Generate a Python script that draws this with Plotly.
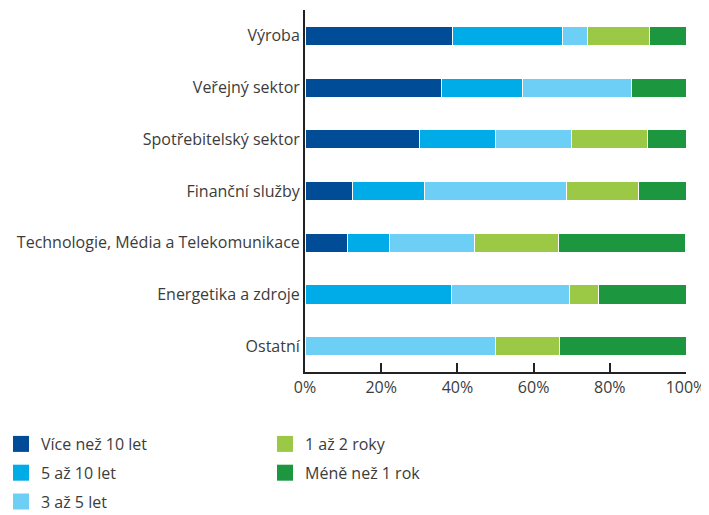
import plotly.graph_objects as go

# sectors, top to bottom as in the chart
sectors = ["Výroba", "Veřejný sektor", "Spotřebitelský sektor", "Finanční služby",
           "Technologie, Média a Telekomunikace", "Energetika a zdroje", "Ostatní"]

# share of respondents (%) per tenure group
vice_nez_10 = [38.7, 35.7, 30.0, 12.5, 11.1, 0.0, 0.0]
od_5_do_10 = [29.0, 21.4, 20.0, 18.75, 11.1, 38.5, 0.0]
od_3_do_5 = [6.5, 28.6, 20.0, 37.5, 22.2, 30.8, 50.0]
od_1_do_2 = [16.1, 0.0, 20.0, 18.75, 22.2, 7.7, 16.7]
mene_nez_1 = [9.7, 14.3, 10.0, 12.5, 33.3, 23.1, 33.3]

series = [
    ("Více než 10 let", vice_nez_10, "#004C97", "legend"),
    ("5 až 10 let", od_5_do_10, "#00ACE8", "legend"),
    ("3 až 5 let", od_3_do_5, "#6DCFF6", "legend"),
    ("1 až 2 roky", od_1_do_2, "#9BC945", "legend2"),
    ("Méně než 1 rok", mene_nez_1, "#1C963F", "legend2"),
]

font = "Open Sans, Noto Sans, sans-serif"
text_col = "#3c3c3c"

fig = go.Figure()
for name, vals, col, leg in series:
    fig.add_trace(go.Bar(
        y=sectors, x=vals, name=name, orientation="h",
        marker=dict(color=col, line=dict(color="white", width=1)),
        width=0.37, legendgroup=name, showlegend=False,
    ))
    # legend-only entry so the swatch can be a bigger square
    fig.add_trace(go.Scatter(
        x=[None], y=[None], mode="markers", name=name,
        marker=dict(symbol="square", size=16, color=col),
        legend=leg, legendgroup=name,
    ))

# page body adds an 8px offset, so the figure is a bit smaller than the window
leg_common = dict(yref="container", y=1 - 419 / 507, xanchor="left", yanchor="top",
                  orientation="v", traceorder="grouped", tracegroupgap=5,
                  font=dict(size=16, color=text_col))
fig.update_layout(
    barmode="stack",
    width=701, height=507,
    margin=dict(l=297, r=23, t=2, b=143, autoexpand=False),
    paper_bgcolor="white", plot_bgcolor="white",
    font=dict(family=font, size=16, color=text_col),
    legend=dict(xref="paper", x=-304 / 381, **leg_common),
    legend2=dict(xref="paper", x=-40 / 381, **leg_common),
)
fig.update_xaxes(
    range=[0, 100], tickvals=[0, 20, 40, 60, 80, 100],
    ticktext=["0%", "20%", "40%", "60%", "80%", "100%"],
    showgrid=False, zeroline=False, automargin=False,
    showline=True, linecolor="#222222", linewidth=2,
    ticks="inside", ticklen=9, tickwidth=2, tickcolor="#222222",
)
fig.update_yaxes(
    autorange="reversed", showgrid=False, zeroline=False, automargin=False,
    showline=True, linecolor="#222222", linewidth=2,
    ticks="",
)

fig.write_html("out.html")
